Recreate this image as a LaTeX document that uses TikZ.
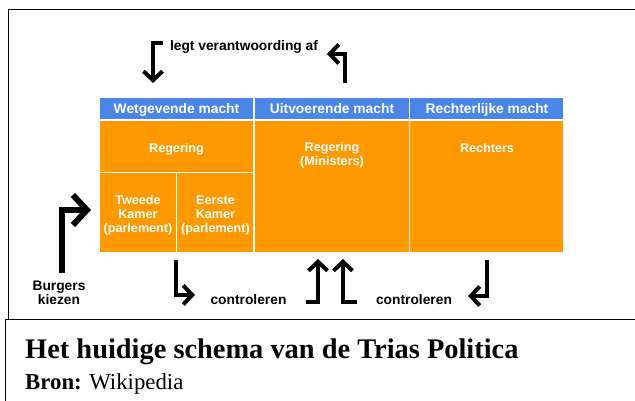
\documentclass[tikz,border=0pt]{standalone}
\usepackage{fontspec}
\setmainfont{Liberation Serif}
\newfontfamily\arialf{Liberation Sans}
\usetikzlibrary{arrows.meta,fit}
\definecolor{hdrblue}{RGB}{74,134,232}
\definecolor{cellorange}{RGB}{255,153,0}
\begin{document}
\begin{tikzpicture}[x=1pt,y=-1pt,
  hdr/.style={draw=white, line width=1.5pt, fill=hdrblue, inner sep=0pt},
  cell/.style={draw=white, line width=1.5pt, fill=cellorange, inner sep=0pt},
  big/.style={font=\arialf\bfseries\fontsize{13.8}{14}\selectfont, inner sep=0pt, anchor=base, align=center},
  small/.style={font=\arialf\bfseries\fontsize{12.6}{14.3}\selectfont, text=white, inner sep=0pt, anchor=base, align=center},
  arr/.style={line width=4pt, line join=miter, -{Straight Barb[length=9pt,width=19pt]}},
  bigarr/.style={line width=6pt, line join=miter, -{Straight Barb[length=14pt,width=30pt]}},
  frame/.style={line width=1.8pt}
]
\useasboundingbox (0,0) rectangle (635,401);
\fill[white] (0,0) rectangle (635,401);

% frames
\draw[frame] (8.5,319) -- (8.5,9.5) -- (640,9.5);
\draw[frame] (5.5,405) -- (5.5,319.5) -- (640,319.5);

% header cells
\node[hdr, fit={(99,97) (254,120)}] (hw) {};
\node[hdr, fit={(254,97) (409.5,120)}] (hu) {};
\node[hdr, fit={(409.5,97) (564,120)}] (hr) {};
% orange cells
\node[cell, fit={(99,120) (254,172.5)}] (reg1) {};
\node[cell, fit={(99,172.5) (176.5,253)}] (tk) {};
\node[cell, fit={(176.5,172.5) (254,253)}] (ek) {};
\node[cell, fit={(254,120) (409.5,253)}] (reg2) {};
\node[cell, fit={(409.5,120) (564,253)}] (rech) {};

% header texts
\node[big, text=white] (thw) at (176.5,113.5) {Wetgevende macht};
\node[big, text=white] (thu) at (332,113.5) {Uitvoerende macht};
\node[big, text=white] (thr) at (487,113.5) {Rechterlijke macht};

% cell texts (base = baseline of last line)
\node[small] (treg1) at (176.5,152.5) {Regering};
\node[small] (treg2) at (332,166) {Regering\\(Ministers)};
\node[small] (trech) at (487,152.5) {Rechters};
\node[small] (ttk) at (138,233) {Tweede\\Kamer\\(parlement)};
\node[small] (tek) at (215.5,233) {Eerste\\Kamer\\(parlement)};

% labels
\node[big] (legt) at (244,51) {legt verantwoording af};
\node[big] (contr1) at (248.5,304) {controleren};
\node[big] (contr2) at (414,304) {controleren};
\node[big] (burg) at (59,304) {Burgers\\kiezen};

% arrows
\coordinate (a1s) at (163,43);  \coordinate (a1e) at (153,83);
\coordinate (a2s) at (345,83);  \coordinate (a2e) at (327,54);
\coordinate (a3s) at (62,273);  \coordinate (a3e) at (91,210);
\coordinate (a4s) at (176,260); \coordinate (a4e) at (195,295);
\coordinate (a5s) at (306,302); \coordinate (a5e) at (318,259);
\coordinate (a6s) at (357,302); \coordinate (a6e) at (343,259);
\coordinate (a7s) at (487,260); \coordinate (a7e) at (468,296);
\draw[arr] (a1s) -| (a1e);
\draw[arr] (a2s) |- (a2e);
\draw[bigarr] (a3s) |- (a3e);
\draw[arr] (a4s) |- (a4e);
\draw[arr] (a5s) -| (a5e);
\draw[arr] (a6s) -| (a6e);
\draw[arr] (a7s) |- (a7e);

% caption
\node[anchor=base west, inner sep=0pt, font=\bfseries\fontsize{28.4}{30}\selectfont] (cap) at (25,358) {Het huidige schema van de Trias Politica};
\node[anchor=base west, inner sep=0pt, font=\fontsize{22.8}{24}\selectfont] (src) at (25,389) {\textbf{Bron:} Wikipedia};
\end{tikzpicture}
\end{document}
